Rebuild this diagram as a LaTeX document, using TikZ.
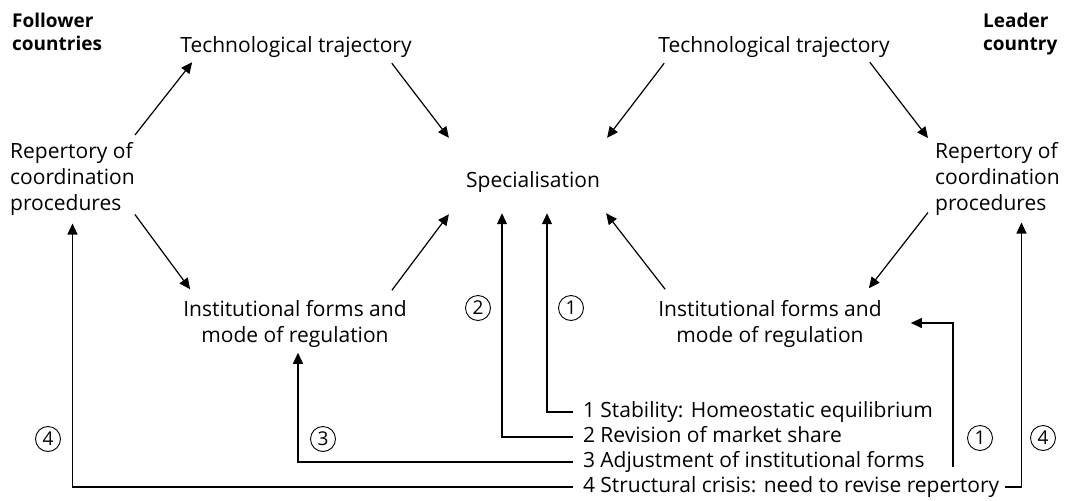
\documentclass[tikz,border=0pt]{standalone}
\usepackage{fontspec}
\setmainfont{Open Sans}
\usetikzlibrary{arrows.meta}

\tikzset{
  lbl/.style={inner sep=0pt, font=\fontsize{21}{26}\selectfont},
  head/.style={inner sep=0pt, align=left, anchor=north west, font=\fontsize{19}{23}\selectfont\bfseries},
  row/.style={inner sep=0pt, outer xsep=10pt, anchor=west, text height=16pt, text depth=5pt, font=\fontsize{21}{25}\selectfont},
  num/.style={draw, circle, minimum size=25pt, inner sep=0pt, line width=0.9pt, font=\fontsize{19}{19}\selectfont},
  link/.style={line width=1.2pt, -{Triangle[length=11pt,width=10pt]}},
}

\begin{document}
\begin{tikzpicture}[x=1pt,y=-1pt]
\useasboundingbox (0,0) rectangle (1069,501);

% headings
\node[head] (follow) at (12,13) {Follower\\countries};
\node[head] (lead) at (983,13) {Leader\\country};

% follower countries
\node[lbl, anchor=base] (techL) at (296,52) {Technological trajectory};
\node[lbl, anchor=north west, align=left] (repL) at (10,142) {Repertory of\\coordination\\procedures};
\node[lbl, align=center] (instL) at (295,324) {Institutional forms and\\mode of regulation};

% specialisation
\node[lbl, anchor=base] (spec) at (533,187) {Specialisation};

% leader country
\node[lbl, anchor=base] (techR) at (774,52) {Technological trajectory};
\node[lbl, anchor=north west, align=left] (repR) at (935,142) {Repertory of\\coordination\\procedures};
\node[lbl, align=center] (instR) at (770,324) {Institutional forms and\\mode of regulation};

% adjustments
\node[row] (t1) at (573,412) {1 Stability: Homeostatic equilibrium};
\node[row] (t2) at (573,437) {2 Revision of market share};
\node[row] (t3) at (573,462) {3 Adjustment of institutional forms};
\node[row] (t4) at (573,487) {4 Structural crisis: need to revise repertory};

\node[num] (n2) at (478,308) {2};
\node[num] (n1) at (571,308) {1};
\node[num] (n3) at (323,439) {3};
\node[num] (n4) at (48,439) {4};
\node[num] (m1) at (980,438) {1};
\node[num] (m4) at (1043,438) {4};

\coordinate (r1) at (953,467);

% triangle arrows
\draw[link] ([shift={(0,-7)}]repL.north east) -- ([shift={(12,5)}]techL.south west);
\draw[link] ([shift={(-20,6)}]techL.south east) -- ([shift={(-17,-33)}]spec.north west);
\draw[link] ([shift={(0,-1)}]repL.south east) -- ([shift={(7,-11)}]instL.north west);
\draw[link] ([shift={(-15,-10)}]instL.north east) -- ([shift={(-17,22)}]spec.south west);
\draw[link] ([shift={(6,6)}]techR.south west) -- ([shift={(7,-33)}]spec.north east);
\draw[link] ([shift={(-20,5)}]techR.south east) -- ([shift={(-7,-4)}]repR.north west);
\draw[link] ([shift={(-7,-3)}]repR.south west) -- ([shift={(-13,-12)}]instR.north east);
\draw[link] ([shift={(7,-11)}]instR.north west) -- ([shift={(6,21)}]spec.south east);

% feedback lines
\draw[link] (t1.west) -| ([shift={(14,21)}]spec.south);
\draw[link] (t2.west) -| ([shift={(-31,21)}]spec.south);
\draw[link] (t3.west) -| ([shift={(3,5)}]instL.south);
\draw[link] (t4.west) -| ([shift={(0,8)}]repL.south);
\draw[link] ([xshift=-4pt]t4.east) -| ([shift={(24,7)}]repR.south);
\draw[link] (r1) |- ([shift={(29,-1)}]instR.east);
\end{tikzpicture}
\end{document}
